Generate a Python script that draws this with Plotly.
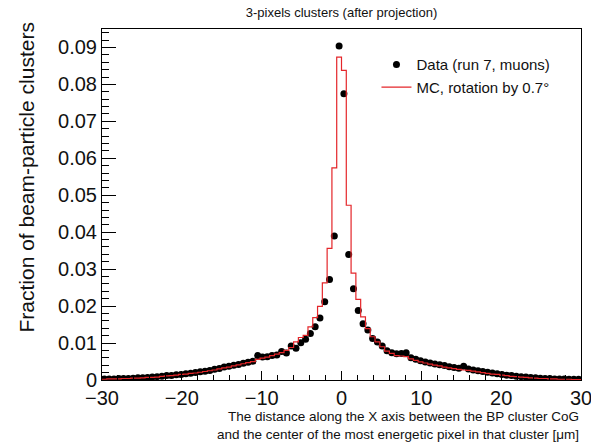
import numpy as np
import plotly.graph_objects as go

# ---- data ----
x_low, x_high, n_bins = -30.0, 30.0, 100
bin_edges = np.linspace(x_low, x_high, n_bins + 1)
bin_centers = 0.5 * (bin_edges[:-1] + bin_edges[1:])

data_values = [
    0.0003, 0.0003, 0.0003, 0.0004, 0.0004, 0.0004, 0.0005, 0.0006, 0.0006, 0.0007,
    0.0008, 0.0009, 0.0010, 0.0012, 0.0012, 0.0014, 0.0015, 0.0017, 0.0018, 0.0020,
    0.0022, 0.0024, 0.0026, 0.0029, 0.0031, 0.0035, 0.0037, 0.0040, 0.0042, 0.0045,
    0.0048, 0.0051, 0.0066, 0.0062, 0.0063, 0.0066, 0.0068, 0.0077, 0.0073, 0.0092,
    0.0086, 0.0101, 0.0110, 0.0126, 0.0144, 0.0168, 0.0212, 0.0272, 0.0390, 0.0904,
    0.0775, 0.0340, 0.0247, 0.0188, 0.0152, 0.0135, 0.0112, 0.0103, 0.0092, 0.0079,
    0.0074, 0.0071, 0.0072, 0.0074, 0.0060, 0.0056, 0.0052, 0.0049, 0.0046, 0.0043,
    0.0041, 0.0039, 0.0036, 0.0034, 0.0032, 0.0037, 0.0030, 0.0027, 0.0025, 0.0023,
    0.0021, 0.0019, 0.0017, 0.0015, 0.0013, 0.0012, 0.0010, 0.0009, 0.0008, 0.0007,
    0.0006, 0.0005, 0.0004, 0.0004, 0.0003, 0.0003, 0.0003, 0.0002, 0.0002, 0.0002,
]

mc_values = [
    0.0002, 0.0003, 0.0003, 0.0003, 0.0004, 0.0004, 0.0005, 0.0005, 0.0006, 0.0007,
    0.0007, 0.0008, 0.0010, 0.0011, 0.0012, 0.0013, 0.0015, 0.0016, 0.0018, 0.0019,
    0.0021, 0.0023, 0.0025, 0.0027, 0.0030, 0.0033, 0.0035, 0.0038, 0.0041, 0.0044,
    0.0047, 0.0050, 0.0056, 0.0059, 0.0062, 0.0066, 0.0070, 0.0074, 0.0080, 0.0088,
    0.0103, 0.0115, 0.0121, 0.0144, 0.0169, 0.0199, 0.0263, 0.0356, 0.0574, 0.0874,
    0.0838, 0.0473, 0.0289, 0.0218, 0.0171, 0.0139, 0.0117, 0.0103, 0.0090, 0.0078,
    0.0072, 0.0066, 0.0065, 0.0063, 0.0057, 0.0053, 0.0049, 0.0046, 0.0043, 0.0040,
    0.0038, 0.0035, 0.0033, 0.0031, 0.0029, 0.0027, 0.0026, 0.0024, 0.0022, 0.0020,
    0.0018, 0.0016, 0.0015, 0.0013, 0.0012, 0.0010, 0.0009, 0.0008, 0.0007, 0.0006,
    0.0005, 0.0004, 0.0004, 0.0003, 0.0003, 0.0002, 0.0002, 0.0002, 0.0001, 0.0001,
]

y_tick_vals = [0, 0.01, 0.02, 0.03, 0.04, 0.05, 0.06, 0.07, 0.08, 0.09]
y_tick_text = ["0", "0.01", "0.02", "0.03", "0.04", "0.05", "0.06", "0.07", "0.08", "0.09"]
x_tick_vals = [-30, -20, -10, 0, 10, 20, 30]

# step outline for MC histogram
mc_x = list(bin_edges)
mc_y = list(mc_values) + [mc_values[-1]]

FONT = "Liberation Sans, Arial, sans-serif"

fig = go.Figure()
fig.add_trace(go.Scatter(
    x=list(bin_centers), y=data_values, mode="markers",
    marker=dict(color="black", size=7),
    name="Data (run 7, muons)",
))
fig.add_trace(go.Scatter(
    x=mc_x, y=mc_y, mode="lines", line=dict(color="#e4262a", width=1.2, shape="hv"),
    name="MC, rotation by 0.7°",
))

fig.update_layout(
    width=591, height=448,
    margin=dict(l=102, r=10, t=29, b=68),
    paper_bgcolor="white", plot_bgcolor="white",
    font=dict(family=FONT, color="#111"),
    title=dict(text="3-pixels clusters (after projection)", x=0.5, xref="paper",
               y=1 - 12 / 448, yref="container", yanchor="middle", xanchor="center",
               font=dict(size=13, family=FONT, color="#111")),
    showlegend=True,
    legend=dict(x=0.573, y=0.945, xanchor="left", yanchor="top",
                bgcolor="rgba(0,0,0,0)", font=dict(size=15, family=FONT, color="#111"),
                tracegroupgap=0),
    xaxis=dict(range=[x_low, x_high], tickvals=x_tick_vals, ticks="inside", ticklen=9,
               tickcolor="black", showline=True, mirror=True, linecolor="black", linewidth=1,
               showgrid=False, zeroline=False, ticklabeloverflow="allow", automargin=False,
               tickfont=dict(size=20, family=FONT, color="#111"),
               minor=dict(dtick=2, ticks="inside", ticklen=5, tickcolor="black", showgrid=False)),
    yaxis=dict(range=[0, 0.095], tickvals=y_tick_vals, ticktext=y_tick_text, ticks="inside",
               ticklen=14, tickcolor="black", showline=True, mirror=True, linecolor="black",
               linewidth=1, showgrid=False, zeroline=False, automargin=False,
               tickfont=dict(size=20, family=FONT, color="#111"),
               minor=dict(dtick=0.002, ticks="inside", ticklen=7, tickcolor="black", showgrid=False)),
)

fig.add_annotation(
    text="Fraction of beam-particle clusters", textangle=-90,
    xref="paper", yref="paper", x=-0.158, y=1.025, xanchor="center", yanchor="top",
    showarrow=False, font=dict(size=21, family=FONT, color="#111"),
)
fig.add_annotation(
    text="The distance along the X axis between the BP cluster CoG<br>and the center of the most energetic pixel in that cluster [μm]",
    xref="paper", yref="paper", x=1.0, y=-0.078, xanchor="right", yanchor="top", align="right",
    showarrow=False, font=dict(size=13.5, family=FONT, color="#111"),
)

fig.write_html("out.html")
